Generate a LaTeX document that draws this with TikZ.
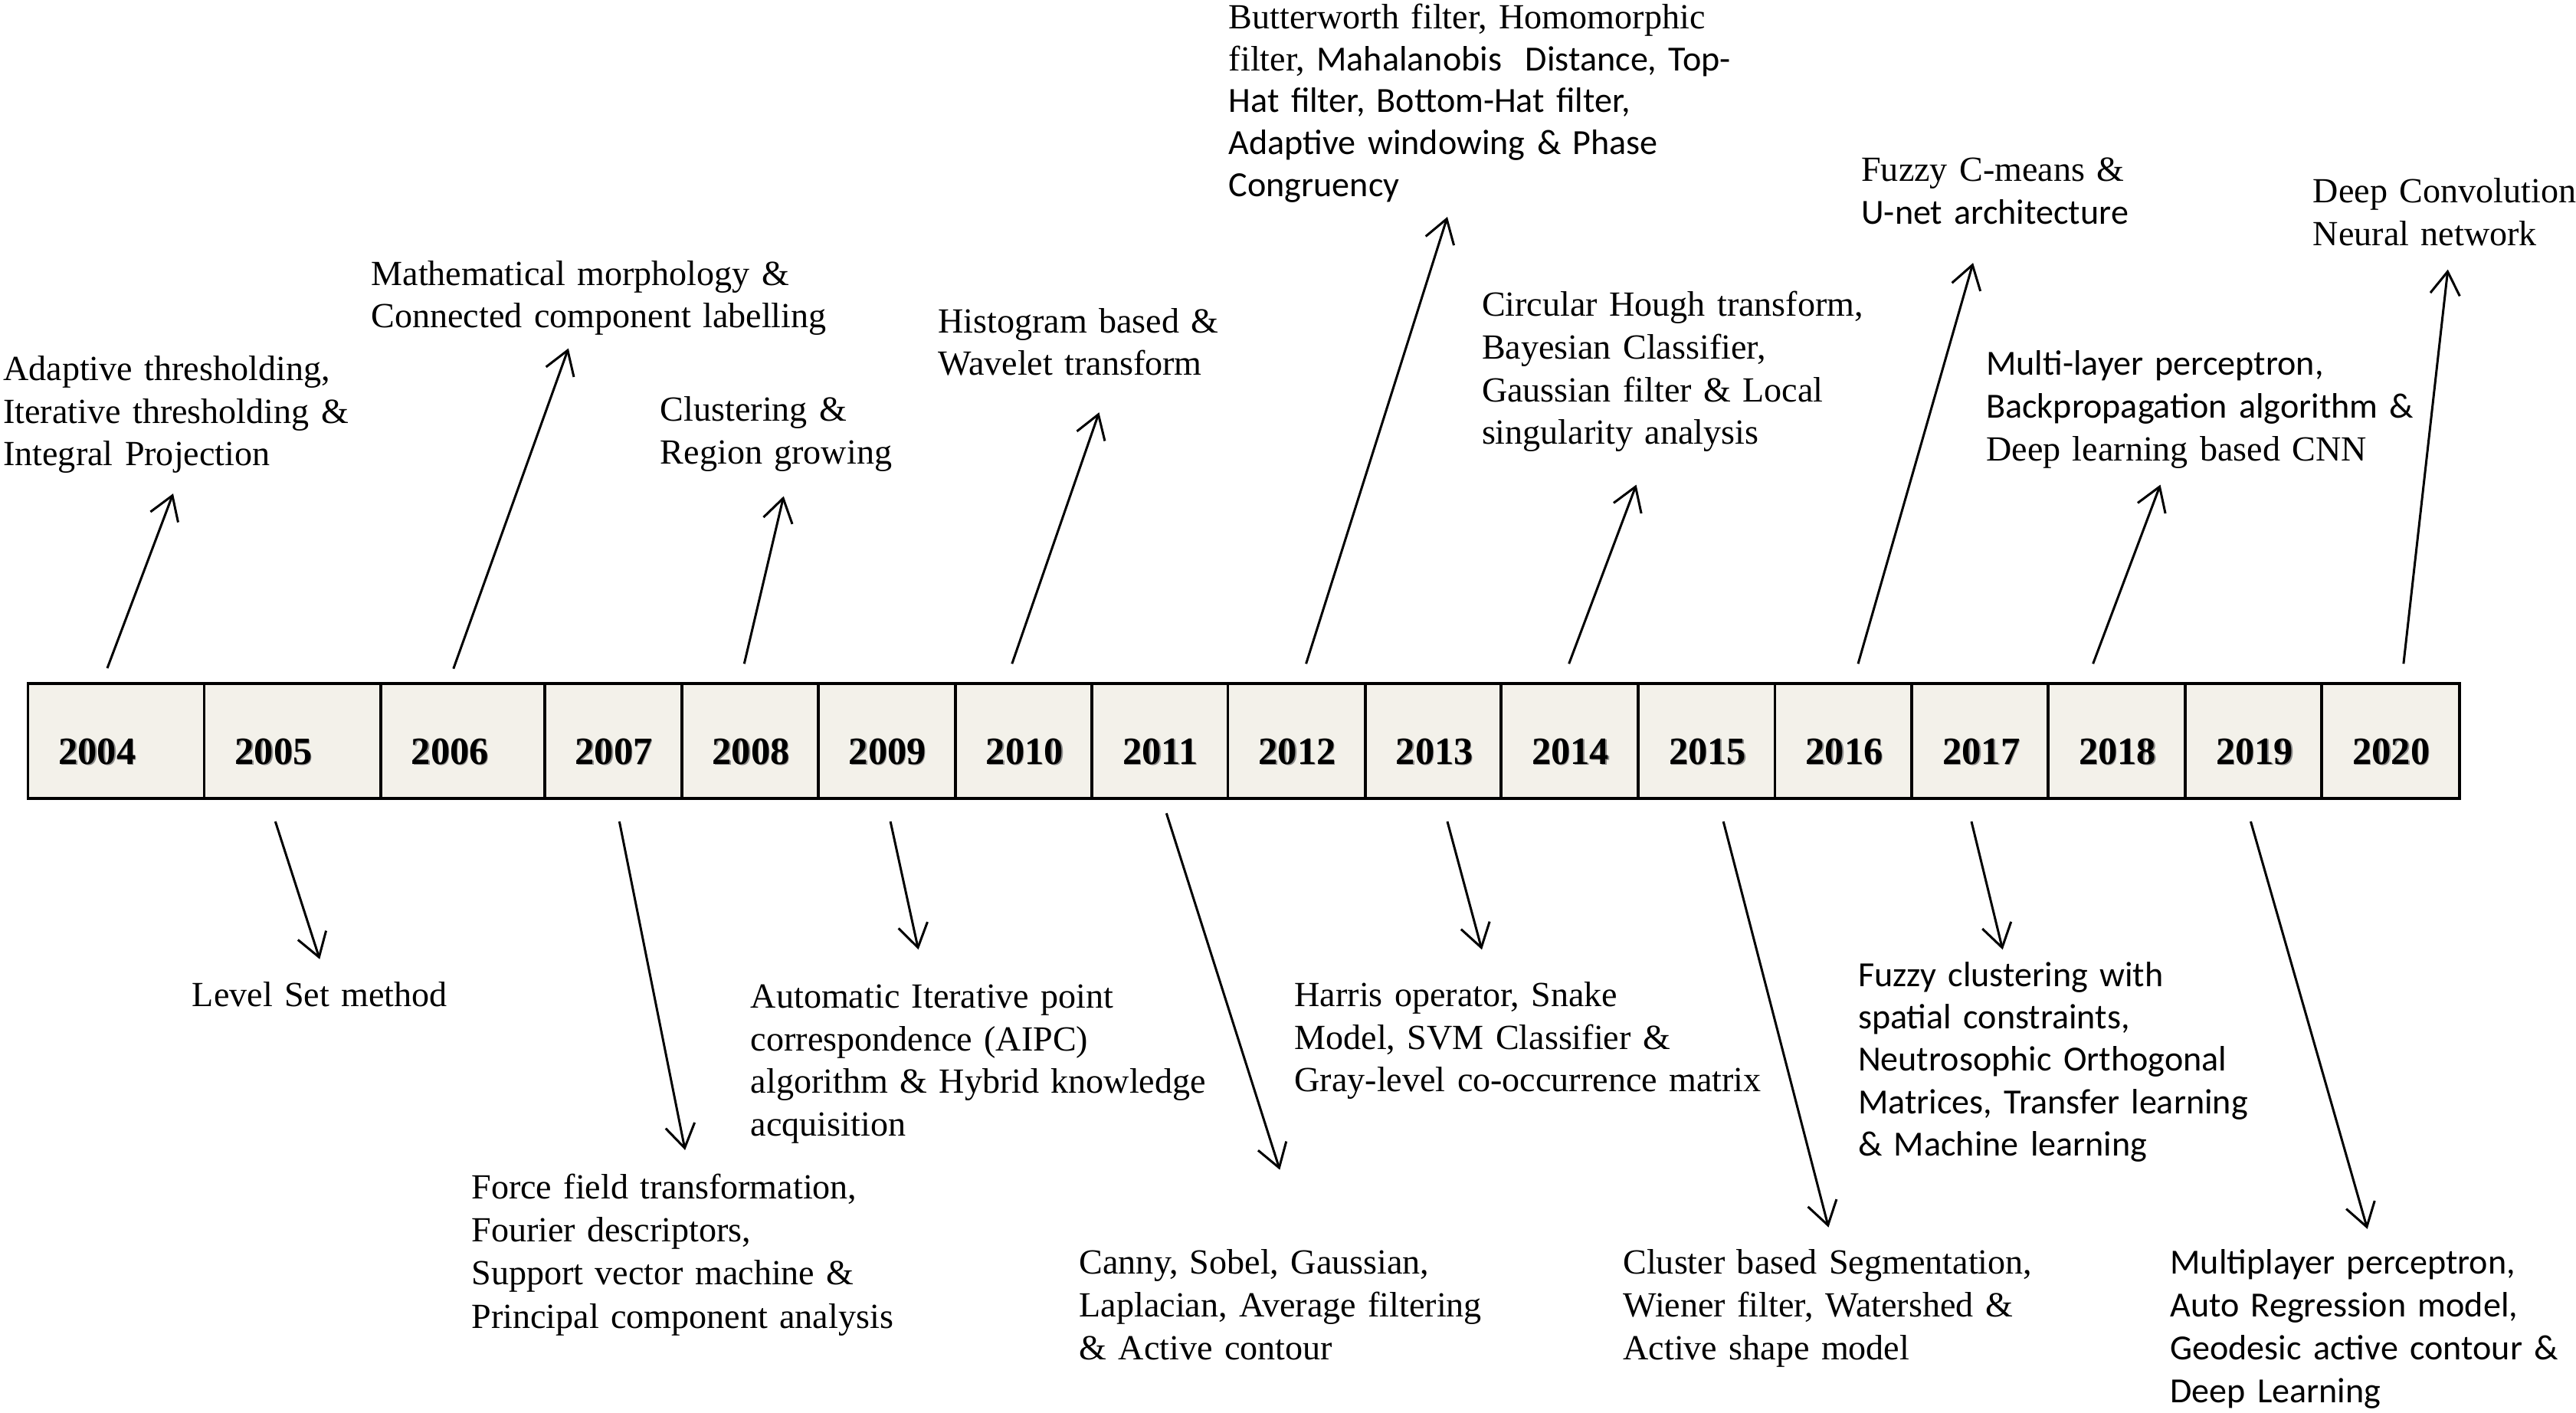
\documentclass[tikz,border=0pt]{standalone}
\usepackage{fontspec}
\setmainfont{Liberation Serif}
\newfontfamily\calfont{Carlito}
\usetikzlibrary{arrows.meta}
\definecolor{cellfill}{RGB}{243,241,234}
\begin{document}
\begin{tikzpicture}[x=1pt,y=-1pt,
  txt/.style={anchor=base west, inner sep=0pt, outer sep=0pt, text width=470pt, align=left,
              font=\fontsize{21.5}{26}\selectfont},
  cell/.style={draw=black, line width=1.8pt, fill=cellfill, minimum height=70pt,
               inner sep=0pt, outer sep=0pt, anchor=south west},
  year/.style={anchor=base west, inner sep=0pt, font=\fontsize{23.5}{26}\selectfont\bfseries},
  arr/.style={line width=1.4pt, -{Straight Barb[length=14pt,width=18pt,line width=1.4pt]}}
]
\useasboundingbox (0,0) rectangle (1568,859.6);

% timeline cells
\foreach \yr/\l/\w in {2004/17/107.3, 2005/124.3/107.4, 2006/231.7/99.7, 2007/331.4/83.5,
  2008/414.9/83.1, 2009/498/83.5, 2010/581.5/83.2, 2011/664.7/82.7, 2012/747.4/83.6,
  2013/831/82.7, 2014/913.7/83.5, 2015/997.2/83.2, 2016/1080.4/83.4, 2017/1163.8/82.8,
  2018/1246.6/83.6, 2019/1330.2/83.1, 2020/1413.3/83.6}
{
  \node[cell, minimum width=\w pt] (c\yr) at (\l,486) {};
  \node[year, text=black!45] at (\l+19.2,465.7) {\yr};
  \node[year] (y\yr) at (\l+18.5,465) {\yr};
}

% upper texts
\node[txt] (t04) at (2,231.5) {Adaptive thresholding,\\Iterative thresholding \&\\Integral Projection};
\node[txt] (t06) at (226,173.5) {Mathematical morphology \&\\Connected component labelling};
\node[txt] (t08) at (402,256.5) {Clustering \&\\Region growing};
\node[txt] (t10) at (571,202.5) {Histogram based \&\\Wavelet transform};
\node[txt, font=\fontsize{21.5}{25.5}\selectfont] (t12) at (748,17.5) {Butterworth filter, Homomorphic\\filter, {\calfont Mahalanobis\ \ Distance, Top-}\\{\calfont Hat filter, Bottom-Hat filter,}\\{\calfont Adaptive windowing \& Phase}\\{\calfont Congruency}};
\node[txt] (t14) at (902,192.5) {Circular Hough transform,\\Bayesian Classifier,\\Gaussian filter \& Local\\singularity analysis};
\node[txt] (t16) at (1133,110.5) {Fuzzy C-means \&\\{\calfont U-net architecture}};
\node[txt] (t18) at (1209,228.5) {{\calfont Multi-layer perceptron,}\\{\calfont Backpropagation algorithm \&}\\Deep learning based CNN};
\node[txt] (t20) at (1408,123.5) {Deep Convolution\\Neural network};

% lower texts
\node[txt] (t05) at (117,612.5) {Level Set method};
\node[txt, font=\fontsize{21.5}{26.3}\selectfont] (t07) at (287,729.5) {Force field transformation,\\Fourier descriptors,\\Support vector machine \&\\Principal component analysis};
\node[txt] (t09) at (457,613.5) {Automatic Iterative point\\correspondence (AIPC)\\algorithm \& Hybrid knowledge\\acquisition};
\node[txt] (t11) at (657,775.5) {Canny, Sobel, Gaussian,\\Laplacian, Average filtering\\\& Active contour};
\node[txt] (t13) at (788,612.5) {Harris operator, Snake\\Model, SVM Classifier \&\\Gray-level co-occurrence matrix};
\node[txt] (t15) at (988,775.5) {Cluster based Segmentation,\\Wiener filter, Watershed \&\\Active shape model};
\node[txt, font=\fontsize{21.5}{25.75}\selectfont\calfont] (t17) at (1131,600.5) {Fuzzy clustering with\\spatial constraints,\\Neutrosophic Orthogonal\\Matrices, Transfer learning\\\& Machine learning};
\node[txt, font=\fontsize{21.5}{26}\selectfont\calfont] (t19) at (1321,775.5) {Multiplayer perceptron,\\Auto Regression model,\\Geodesic active contour \&\\Deep Learning};

% arrow end points
\foreach \n/\sx/\sy/\tx/\ty in {04/65.3/406.7/105.4/300.4, 06/276/407/346/212, 08/453/404/477/302,
  10/616/404/669/251, 12/795/404/881/132, 14/955/404/996/295, 16/1131/404/1201/160,
  18/1274/404/1315/295, 20/1463/404/1490/164,
  05/167.6/500/194.6/583.8, 07/377/500/417/700, 09/542/500/559/578, 11/710/495/779/712,
  13/881/500/902/578, 15/1049/500/1113/747, 17/1200/500/1219/578, 19/1370/500/1441/748}
{
  \coordinate (s\n) at (\sx,\sy);
  \coordinate (e\n) at (\tx,\ty);
  \draw[arr] (s\n) -- (e\n);
}
\end{tikzpicture}
\end{document}
